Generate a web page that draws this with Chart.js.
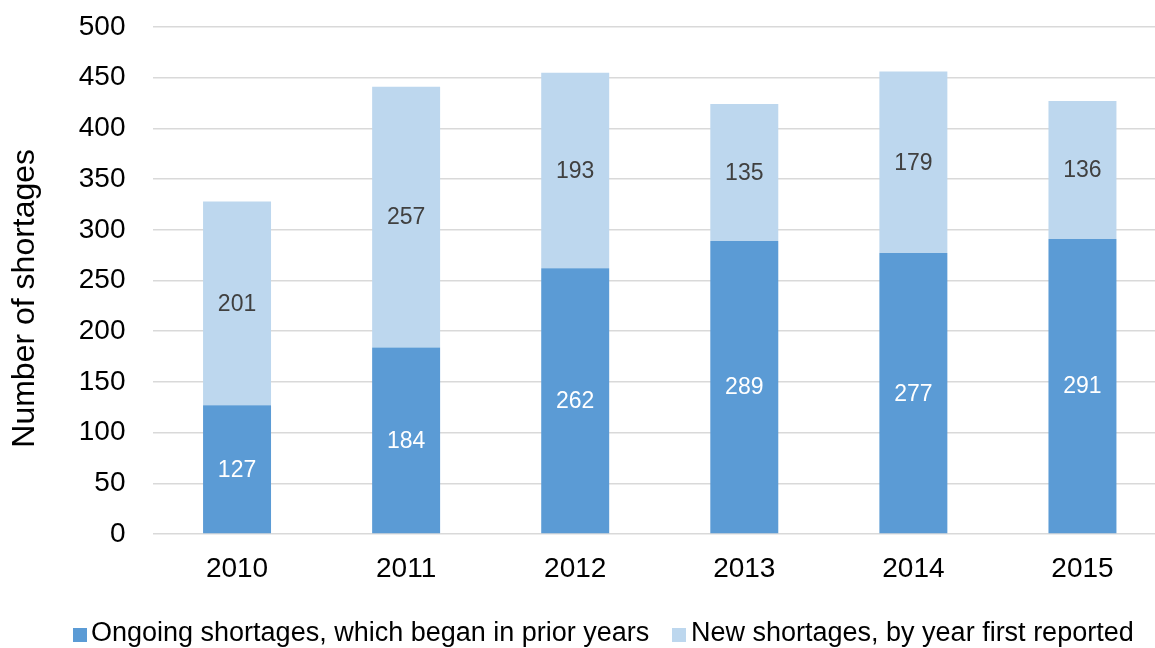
<!DOCTYPE html>
<html>
<head>
<meta charset="utf-8">
<script src="https://cdn.jsdelivr.net/npm/chart.js@4.4.1/dist/chart.umd.min.js"></script>
<style>
  html, body { margin: 0; padding: 0; background: #fff; overflow: hidden; }
  #wrap { position: relative; width: 1155px; height: 648px; overflow: hidden; }
  #box { position: absolute; left: 0; top: 0; width: 1180px; height: 648px; }
  .key { position: absolute; top: 619px; font: 27px 'Liberation Sans', Arial, sans-serif; line-height: 27px; color: #000; white-space: nowrap; }
  .sw { position: absolute; top: 628px; width: 14px; height: 14px; }
</style>
</head>
<body>
<div id="wrap">
  <div id="box"><canvas id="shortChart"></canvas></div>
  <span class="sw" style="left:73px;background:#5B9BD5"></span>
  <span class="key" style="left:91px">Ongoing shortages, which began in prior years</span>
  <span class="sw" style="left:672px;background:#BDD7EE"></span>
  <span class="key" style="left:691px">New shortages, by year first reported</span>
</div>
<script>
const years = ['2010', '2011', '2012', '2013', '2014', '2015'];
const ongoing = [127, 184, 262, 289, 277, 291];
const newOnes = [201, 257, 193, 135, 179, 136];
const yTicks = [0, 50, 100, 150, 200, 250, 300, 350, 400, 450, 500];

const FONT = "'Liberation Sans', Arial, sans-serif";

// value labels in the middle of each stacked segment
const segmentLabels = {
  id: 'segmentLabels',
  afterDatasetsDraw(chart) {
    const c = chart.ctx;
    c.save();
    c.font = '23px ' + FONT;
    c.textAlign = 'center';
    c.textBaseline = 'middle';
    chart.data.datasets.forEach((ds, i) => {
      const meta = chart.getDatasetMeta(i);
      c.fillStyle = i === 0 ? '#ffffff' : '#404040';
      meta.data.forEach((bar, j) => {
        c.fillText(String(ds.data[j]), bar.x, (bar.y + bar.base) / 2 + 1);
      });
    });
    c.restore();
  }
};

const ctx = document.getElementById('shortChart').getContext('2d');
new Chart(ctx, {
  type: 'bar',
  data: {
    labels: years,
    datasets: [{
      label: 'Ongoing shortages, which began in prior years',
      data: ongoing,
      backgroundColor: '#5B9BD5'
    }, {
      label: 'New shortages, by year first reported',
      data: newOnes,
      backgroundColor: '#BDD7EE'
    }]
  },
  options: {
    responsive: true,
    maintainAspectRatio: false,
    animation: false,
    layout: { padding: { top: 27, right: 13, left: 0, bottom: 0 } },
    plugins: {
      legend: { display: false },
      tooltip: { enabled: false }
    },
    datasets: {
      bar: { barPercentage: 0.402, categoryPercentage: 1 }
    },
    scales: {
      x: {
        stacked: true,
        grid: { display: false },
        border: { display: false },
        ticks: { color: '#000', font: { family: FONT, size: 28 }, padding: 10 },
        afterFit(scale) { scale.height = 114; }
      },
      y: {
        stacked: true,
        min: 0,
        max: 500,
        afterBuildTicks(scale) { scale.ticks = yTicks.map(v => ({ value: v })); },
        grid: { color: '#d9d9d9', lineWidth: 1.5, drawTicks: false },
        border: { display: false },
        ticks: { color: '#000', font: { family: FONT, size: 28 }, padding: 27 },
        title: {
          display: true,
          // trailing spaces nudge the rotated title a little lower
          text: 'Number of shortages\u00a0\u00a0\u00a0\u00a0',
          color: '#000',
          font: { family: FONT, size: 32 },
          padding: { top: 6, bottom: 0 }
        },
        afterFit(scale) {
          scale.width = 152.5;
          scale.paddingTop = 0;
          scale.paddingBottom = 0;
        }
      }
    }
  },
  plugins: [segmentLabels]
});
</script>
</body>
</html>
